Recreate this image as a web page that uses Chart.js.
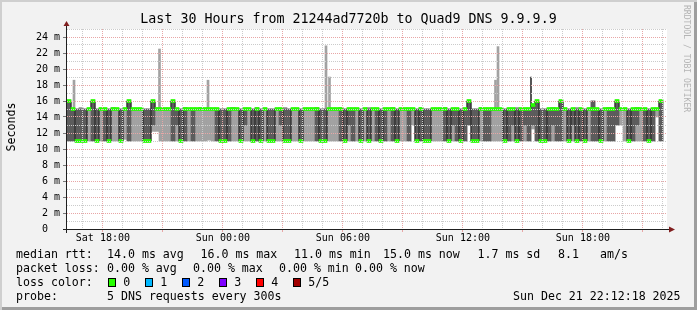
<!DOCTYPE html>
<html>
<head>
<meta charset="utf-8">
<title>Last 30 Hours from 21244ad7720b to Quad9 DNS 9.9.9.9</title>
<script src="https://cdn.jsdelivr.net/npm/chart.js@4.4.1/dist/chart.umd.min.js"></script>
<style>
    html, body { margin: 0; padding: 0; background: #f2f2f2; }
    #graph {
        position: relative; width: 697px; height: 310px; overflow: hidden;
        background: #f2f2f2;
        box-shadow: inset 2px 2px 0 #cfcfcf, inset -3px -3px 0 #9e9e9e;
        font-family: 'DejaVu Sans Mono', monospace; color: #000;
    }
    #graph canvas { position: absolute; left: 0; top: 0; }
    .txt { position: absolute; white-space: pre; font-size: 11.6px; line-height: 14px; }
    #title { left: 0; top: 11px; width: 697px; text-align: center; font-size: 13.3px; line-height: 16px; }
    #ytitle { left: -19px; top: 120px; width: 60px; text-align: center; transform: rotate(-90deg); }
    #mark {
        position: absolute; left: 682px; top: 5px; writing-mode: vertical-rl;
        font-size: 8.1px; line-height: 9px; color: #b4b4b4; white-space: pre;
    }
    .box { position: absolute; width: 8px; height: 9px; box-sizing: border-box; border: 1px solid #000; }
</style>
</head>
<body>
<div id="graph">
    <canvas id="smokeChart" width="697" height="310"></canvas>
    <div class="txt" id="title">Last 30 Hours from 21244ad7720b to Quad9 DNS 9.9.9.9</div>
    <div class="txt" id="ytitle">Seconds</div>
    <div id="mark">RRDTOOL / TOBI OETIKER</div>
    <div id="legend"></div>
</div>
<script>
// time axis, hours counted from Sat 00:00
const startHour = 16.205;   // Sat 16:12:18
const endHour = 46.205;     // Sun 22:12:18
const stepHours = 0.2;      // one column = 12 minutes

const xTickHours = [18, 24, 30, 36, 42];
const xTickLabels = ['Sat 18:00', 'Sun 00:00', 'Sun 06:00', 'Sun 12:00', 'Sun 18:00'];

// rtt per column in ms (ping 1 / ping 2 / median / ping 4 / ping 5)
const rttMin = [
    11, 11, 10.9, 11, 11, 11, 11, 11.1, 11, 11,
    11, 11, 11, 11, 11.2, 11, 11, 11, 11, 10.9,
    11, 12.2, 12.2, 11, 11, 11, 11, 11, 10.9, 11,
    11, 11, 11, 11, 11, 11.1, 11, 11, 10.9, 11,
    11, 11, 11, 11, 11, 11, 10.9, 11, 11, 11,
    11, 11, 11, 11, 11, 10.9, 11, 11, 11, 11,
    11, 11, 11, 11.1, 11, 11, 11, 11, 11, 11,
    11, 11, 11, 11, 11, 11, 11, 11, 10.9, 11,
    11, 11, 11, 11, 11, 11, 13, 11, 11, 11,
    11, 11, 11, 11, 11, 10.9, 11, 11, 11, 11,
    13, 11, 11, 11, 11, 11, 11, 11, 11, 11,
    11, 11, 10.9, 11, 11, 11, 12.5, 11, 11, 11,
    11, 11, 11, 11, 11, 11, 11, 10.9, 11, 11,
    11, 11, 11, 11, 11, 11, 11, 13, 13, 11,
    11, 11, 11, 11, 11, 11, 11, 14, 11, null
];
const rttLow = [
    11, 11, 11, 11, 11, 15, 11, 11, 15, 11,
    11, 15, 15, 11, 15, 11, 15, 15, 15, 11,
    11, 13, 15, 15, 15, 15, 11, 13, 11, 11,
    15, 11, 15, 15, 15, 15, 15, 11, 11, 11,
    11, 15, 15, 11, 13, 15, 11, 11, 11, 15,
    11, 11, 15, 13, 11, 11, 15, 15, 11, 15,
    15, 15, 11, 11, 11, 15, 15, 15, 11, 11,
    13, 11, 15, 11, 15, 11, 15, 11, 11, 11,
    15, 11, 11, 15, 15, 11, 15, 11, 11, 11,
    11, 15, 15, 15, 11, 11, 13, 11, 11, 11,
    13, 11, 11, 15, 11, 11, 15, 15, 15, 11,
    11, 13, 11, 11, 13, 11, 13, 11, 11, 11,
    11, 13, 11, 11, 15, 11, 13, 11, 11, 11,
    15, 11, 11, 11, 15, 11, 11, 13, 15, 15,
    11, 11, 13, 15, 11, 11, 11, 15, 11, null
];
const rttMedian = [
    16, 15, 11, 11, 11, 15, 16, 11, 15, 15,
    11, 15, 15, 11, 15, 16, 15, 15, 15, 11,
    11, 16, 15, 15, 15, 15, 16, 15, 11, 15,
    15, 15, 15, 15, 15, 15, 15, 15, 11, 11,
    15, 15, 15, 11, 15, 15, 11, 15, 11, 15,
    11, 11, 15, 15, 11, 11, 15, 15, 11, 15,
    15, 15, 15, 11, 11, 15, 15, 15, 15, 11,
    15, 15, 15, 11, 15, 11, 15, 15, 11, 15,
    15, 15, 11, 15, 15, 15, 15, 11, 15, 11,
    11, 15, 15, 15, 15, 11, 15, 15, 11, 15,
    16, 11, 11, 15, 15, 15, 15, 15, 15, 11,
    15, 15, 11, 15, 15, 15, 15.5, 16, 11, 11,
    15, 15, 15, 16, 15, 11, 15, 11, 15, 11,
    15, 15, 15, 11, 15, 15, 15, 16, 15, 15,
    11, 15, 15, 15, 15, 11, 15, 15, 16, null
];
const rttHigh = [
    16, 15, 15, 15, 15, 15, 16, 15, 15, 15,
    15, 15, 15, 15, 15, 16, 15, 15, 15, 15,
    15, 16, 15, 15, 15, 15, 16, 15, 15, 15,
    15, 15, 15, 15, 15, 15, 15, 15, 15, 15,
    15, 15, 15, 15, 15, 15, 15, 15, 15, 15,
    15, 15, 15, 15, 15, 15, 15, 15, 15, 15,
    15, 15, 15, 15, 15, 15, 15, 15, 15, 15,
    15, 15, 15, 15, 15, 15, 15, 15, 15, 15,
    15, 15, 15, 15, 15, 15, 15, 15, 15, 15,
    15, 15, 15, 15, 15, 15, 15, 15, 15, 15,
    16, 15, 15, 15, 15, 15, 15, 15, 15, 15,
    15, 15, 15, 15, 15, 15, 15.5, 16, 15, 15,
    15, 15, 15, 16, 15, 15, 15, 15, 15, 15,
    15, 16, 15, 15, 15, 15, 15, 16, 15, 15,
    15, 15, 15, 15, 15, 15, 15, 15, 16, null
];
const rttMax = [
    16, 15, 15, 15.2, 15, 15, 16, 15, 15, 15,
    15, 15.2, 15, 15, 15, 16, 15, 15, 15, 15,
    15, 16, 15.2, 15, 15, 15, 16, 15, 15, 15.2,
    15, 15, 15, 15.2, 15, 15, 15, 15, 15, 15,
    15, 15.2, 15, 15, 15, 15, 15, 15.2, 15, 15,
    15, 15, 15, 15, 15.2, 15, 15, 15, 15, 15,
    15, 15, 15.2, 15, 15, 15, 15, 15, 15.2, 15,
    15, 15, 15, 15, 15, 15.2, 15, 15, 15, 15,
    15, 15.2, 15, 15, 15, 15, 15, 15, 15.2, 15,
    15, 15, 15, 15, 15.2, 15, 15, 15, 15, 15,
    16, 15, 15, 15.2, 15, 15, 15, 15, 15, 15,
    15, 15, 15.2, 15, 15, 15, 15.5, 16, 15, 15,
    15, 15.2, 15, 16, 15, 15, 15, 15.2, 15, 15,
    15, 16, 15, 15, 15, 15.2, 15, 16, 15, 15,
    15, 15, 15.2, 15, 15, 15, 15, 15, 16, null
];

// single tall outliers (from the top of the band up to ping 5)
const spikeHours = [16.555, 20.83, 23.255, 29.155, 29.33, 37.63, 37.755];
const spikeMax = [18.6, 22.5, 18.6, 22.9, 19.0, 18.6, 22.8];
const outlierHours = [39.405];
const outlierMax = [19.0];

const lossLabels = ['0', '1', '2', '3', '4', '5/5'];
const lossColors = ['#26ff00', '#00b8ff', '#0059ff', '#7e00ff', '#ff0000', '#a10000'];

// colours
const GRID = '#cbcbcb';
const MGRID = '#e8a6a6';
const SMOKE_OUTER = '#a2a2a2';
const SMOKE_INNER = '#5c5c5c';
const MEDIAN_HALF = 0.19; // half height of the loss colour band (~3px)

const colHour = i => startHour + (i + 0.5) * stepHours;

function band(lo, hi) {
    const out = [];
    lo.forEach((v, i) => {
        if (v === null || hi[i] === null) return;
        out.push({ x: colHour(i), y: [v, hi[i]] });
    });
    return out;
}

const medianLine = rttMedian.map((v, i) => ({ x: colHour(i), y: v }));
const medianBand = [];
rttMedian.forEach((v, i) => {
    if (v !== null) medianBand.push({ x: colHour(i), y: [v - MEDIAN_HALF, v + MEDIAN_HALF] });
});
const spikes = spikeHours.map((h, i) => ({ x: h, y: [15, spikeMax[i]] }));
const outliers = outlierHours.map((h, i) => ({ x: h, y: [15, outlierMax[i]] }));

// white canvas + rrdtool style axes with arrows
const rrdAxes = {
    id: 'rrdAxes',
    beforeDraw(chart) {
        const { ctx, chartArea: a } = chart;
        ctx.save();
        ctx.fillStyle = '#ffffff';
        ctx.fillRect(a.left, a.top, a.right - a.left, a.bottom - a.top);
        ctx.restore();
    },
    afterDraw(chart) {
        const { ctx, chartArea: a } = chart;
        const y0 = Math.round(a.bottom) + 0.5;
        const x0 = Math.round(a.left) - 0.5;
        ctx.save();
        ctx.strokeStyle = '#1f1f1f';
        ctx.lineWidth = 1;
        ctx.beginPath();
        ctx.moveTo(a.left - 4, y0);
        ctx.lineTo(a.right + 4, y0);
        ctx.moveTo(x0, a.bottom + 4);
        ctx.lineTo(x0, a.top - 4);
        ctx.stroke();
        ctx.fillStyle = '#801f1f';
        ctx.beginPath();
        ctx.moveTo(a.right + 2, y0 - 3);
        ctx.lineTo(a.right + 8, y0);
        ctx.lineTo(a.right + 2, y0 + 3);
        ctx.closePath();
        ctx.fill();
        ctx.beginPath();
        ctx.moveTo(x0 - 3, a.top - 3);
        ctx.lineTo(x0, a.top - 8);
        ctx.lineTo(x0 + 3, a.top - 3);
        ctx.closePath();
        ctx.fill();
        ctx.restore();
    }
};

const tickFont = { family: 'DejaVu Sans Mono', size: 10 };

new Chart(document.getElementById('smokeChart').getContext('2d'), {
    type: 'bar',
    data: {
        datasets: [
            {
                type: 'bar', label: 'median loss', data: medianBand, order: 1,
                backgroundColor: lossColors[0], barThickness: 4, grouped: false
            },
            {
                type: 'line', label: 'median', data: medianLine, order: 2,
                borderColor: '#202020', borderWidth: 1, stepped: 'middle',
                pointRadius: 0, fill: false
            },
            {
                type: 'bar', label: 'ping 2-4', data: band(rttLow, rttHigh), order: 3,
                backgroundColor: SMOKE_INNER, barThickness: 4, grouped: false
            },
            {
                type: 'bar', label: 'ping 1-5', data: band(rttMin, rttMax), order: 4,
                backgroundColor: SMOKE_OUTER, barThickness: 4, grouped: false
            },
            {
                type: 'bar', label: 'spikes', data: spikes, order: 5,
                backgroundColor: SMOKE_OUTER, barThickness: 2, grouped: false
            },
            {
                type: 'bar', label: 'outlier', data: outliers, order: 5,
                backgroundColor: '#333333', barThickness: 1, grouped: false
            }
        ]
    },
    options: {
        responsive: false,
        animation: false,
        devicePixelRatio: 1,
        layout: { padding: { left: 0, right: 30, top: 29, bottom: 0 } },
        plugins: {
            legend: { display: false },
            tooltip: { enabled: false }
        },
        scales: {
            x: {
                type: 'linear',
                min: startHour,
                max: endHour,
                offset: false,
                afterFit: s => { s.height = 81; },
                afterBuildTicks: s => {
                    const t = [];
                    for (let h = Math.ceil(startHour); h <= endHour; h++) t.push({ value: h });
                    s.ticks = t;
                },
                ticks: {
                    autoSkip: false, maxRotation: 0, minRotation: 0, padding: 0,
                    color: '#000', font: tickFont,
                    callback: v => {
                        const i = xTickHours.indexOf(v);
                        return i >= 0 ? xTickLabels[i] : '';
                    }
                },
                grid: {
                    z: 1, offset: false, tickLength: 3,
                    color: c => (c.tick && c.tick.value % 3 === 0) ? MGRID : GRID,
                    tickColor: c => (c.tick && c.tick.value % 3 === 0) ? MGRID : 'rgba(0,0,0,0)'
                },
                border: { display: false, dash: [1, 1] }
            },
            y: {
                min: 0,
                max: 25,
                afterFit: s => { s.width = 67; },
                ticks: {
                    stepSize: 1, autoSkip: false, padding: 3,
                    color: '#000', font: tickFont,
                    callback: v => v % 2 !== 0 ? '' : (v === 0 ? '0  ' : v + ' m')
                },
                grid: {
                    z: 1, tickLength: 4,
                    color: c => (c.tick && c.tick.value % 2 === 0) ? MGRID : GRID,
                    tickColor: c => (c.tick && c.tick.value % 2 === 0) ? '#777' : 'rgba(0,0,0,0)'
                },
                border: { display: false, dash: [1, 1] }
            }
        }
    },
    plugins: [rrdAxes]
});

// legend below the graph
const legend = document.getElementById('legend');
function put(text, left, top) {
    const d = document.createElement('div');
    d.className = 'txt';
    d.textContent = text;
    d.style.left = left + 'px';
    d.style.top = top + 'px';
    legend.appendChild(d);
}
const rowTop = [247.3, 261.3, 275.3, 289.3];
put('median rtt:', 16, rowTop[0]);
put('14.0 ms avg', 107, rowTop[0]);
put('16.0 ms max', 200.5, rowTop[0]);
put('11.0 ms min', 294, rowTop[0]);
put('15.0 ms now', 383, rowTop[0]);
put('1.7 ms sd', 477.5, rowTop[0]);
put('8.1', 558, rowTop[0]);
put('am/s', 600, rowTop[0]);
put('packet loss:', 16, rowTop[1]);
put('0.00 % avg', 107, rowTop[1]);
put('0.00 % max', 193, rowTop[1]);
put('0.00 % min', 279, rowTop[1]);
put('0.00 % now', 355, rowTop[1]);
put('loss color:', 16, rowTop[2]);
lossLabels.forEach((lbl, i) => {
    const left = 108.3 + i * 37;
    const b = document.createElement('div');
    b.className = 'box';
    b.style.left = left + 'px';
    b.style.top = '278px';
    b.style.background = lossColors[i];
    legend.appendChild(b);
    put(lbl, left + 15, rowTop[2]);
});
put('probe:', 16, rowTop[3]);
put('5 DNS requests every 300s', 107, rowTop[3]);
put('Sun Dec 21 22:12:18 2025', 513, rowTop[3]);
</script>
</body>
</html>
